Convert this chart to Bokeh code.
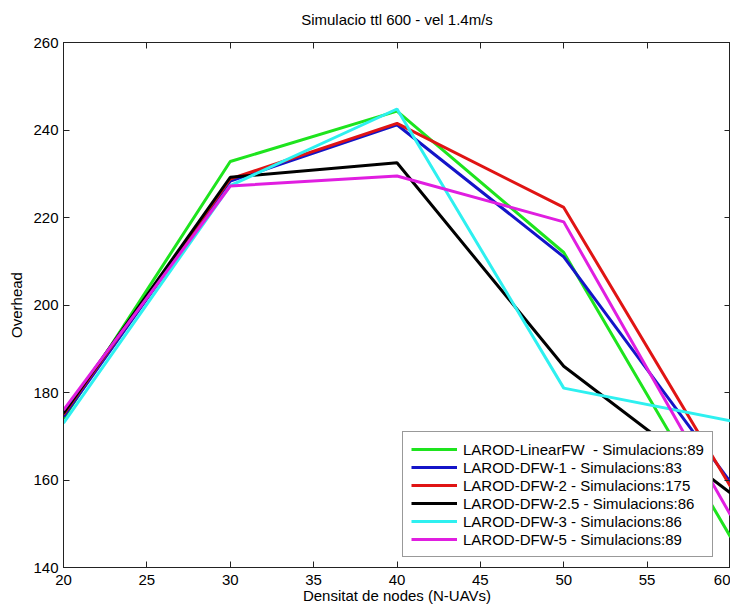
from bokeh.plotting import figure
from bokeh.models import Range1d, LinearAxis, FixedTicker, CustomJSTickFormatter
from bokeh.embed import file_html
from bokeh.resources import INLINE

# ---- data ----
densities = [20, 30, 40, 50, 60]
linear_fw = [174.0, 232.8, 244.3, 212.0, 147.0]
dfw_1 = [174.5, 228.3, 241.2, 211.0, 159.5]
dfw_2 = [175.0, 228.8, 241.5, 222.3, 158.5]
dfw_25 = [175.3, 229.2, 232.5, 186.0, 157.0]
dfw_3 = [173.0, 227.3, 244.8, 181.0, 173.5]
dfw_5 = [176.0, 227.2, 229.5, 219.0, 152.0]

series_labels = [
    "LAROD-LinearFW  - Simulacions:89",
    "LAROD-DFW-1 - Simulacions:83",
    "LAROD-DFW-2 - Simulacions:175",
    "LAROD-DFW-2.5 - Simulacions:86",
    "LAROD-DFW-3 - Simulacions:86",
    "LAROD-DFW-5 - Simulacions:89",
]
series_values = [linear_fw, dfw_1, dfw_2, dfw_25, dfw_3, dfw_5]
series_colors = ["#1ee41e", "#1414c8", "#e01414", "#000000", "#2ef0f0", "#e01ee0"]

x_ticks = [20, 25, 30, 35, 40, 45, 50, 55, 60]
y_ticks = [140, 160, 180, 200, 220, 240, 260]

TITLE = "Simulacio ttl 600 - vel 1.4m/s"
FONT = "Liberation Sans"
FS = "15px"

p = figure(
    frame_width=667, frame_height=525,
    x_range=Range1d(20, 60), y_range=Range1d(140, 260),
    output_backend="svg", toolbar_location=None,
    margin=(0, 0, 0, 5),
    min_border_left=0, min_border_right=0, min_border_top=42, min_border_bottom=0,
)
p.background_fill_color = "white"
p.border_fill_color = "white"
p.outline_line_color = "#222222"
p.outline_line_width = 1
p.grid.visible = False

for ax in (p.xaxis[0], p.yaxis[0]):
    ax.major_tick_in = 6
    ax.major_tick_out = 0
    ax.minor_tick_line_color = None
    ax.axis_line_color = "#222222"
    ax.major_tick_line_color = "#222222"
    ax.major_label_text_font = FONT
    ax.major_label_text_font_size = FS
    ax.major_label_text_color = "black"
    ax.axis_label_text_font = FONT
    ax.axis_label_text_font_size = FS
    ax.axis_label_text_font_style = "normal"
    ax.axis_label_text_color = "black"

p.xaxis.ticker = FixedTicker(ticks=x_ticks)
p.yaxis.ticker = FixedTicker(ticks=y_ticks)
p.xaxis.axis_label = "Densitat de nodes (N-UAVs)"
p.yaxis.axis_label = "Overhead"
p.xaxis.major_label_standoff = 7
p.xaxis.axis_label_standoff = -1
p.yaxis.major_label_standoff = 5
p.yaxis.axis_label_standoff = 5

# mirrored ticks on top and right (box); the title sits on the top axis
blank = CustomJSTickFormatter(code="return '';")
top_ax = LinearAxis(ticker=FixedTicker(ticks=x_ticks), major_tick_in=6, major_tick_out=0,
                    minor_tick_line_color=None, formatter=blank,
                    major_label_standoff=0, axis_line_color="#222222",
                    major_tick_line_color="#222222",
                    axis_label=TITLE, axis_label_standoff=15,
                    axis_label_text_font=FONT, axis_label_text_font_size=FS,
                    axis_label_text_font_style="normal", axis_label_text_color="black")
right_ax = LinearAxis(ticker=FixedTicker(ticks=y_ticks), major_tick_in=6, major_tick_out=0,
                      minor_tick_line_color=None, formatter=blank,
                      major_label_standoff=0, axis_line_color="#222222",
                      major_tick_line_color="#222222")
p.add_layout(top_ax, "above")
p.add_layout(right_ax, "right")

for lbl, vals, col in zip(series_labels, series_values, series_colors):
    p.line(densities, vals, line_color=col, line_width=3, legend_label=lbl)

lg = p.legend[0]
lg.location = (339, 10)
lg.label_text_font = FONT
lg.label_text_font_size = FS
lg.label_text_color = "black"
lg.glyph_width = 46
lg.glyph_height = 18
lg.label_height = 18
lg.label_standoff = 6
lg.spacing = 0
lg.padding = 8
lg.margin = 0
lg.border_line_color = "#333333"
lg.border_line_width = 1
lg.background_fill_color = "white"
lg.background_fill_alpha = 1.0

open("out.html", "w").write(file_html(p, INLINE))
